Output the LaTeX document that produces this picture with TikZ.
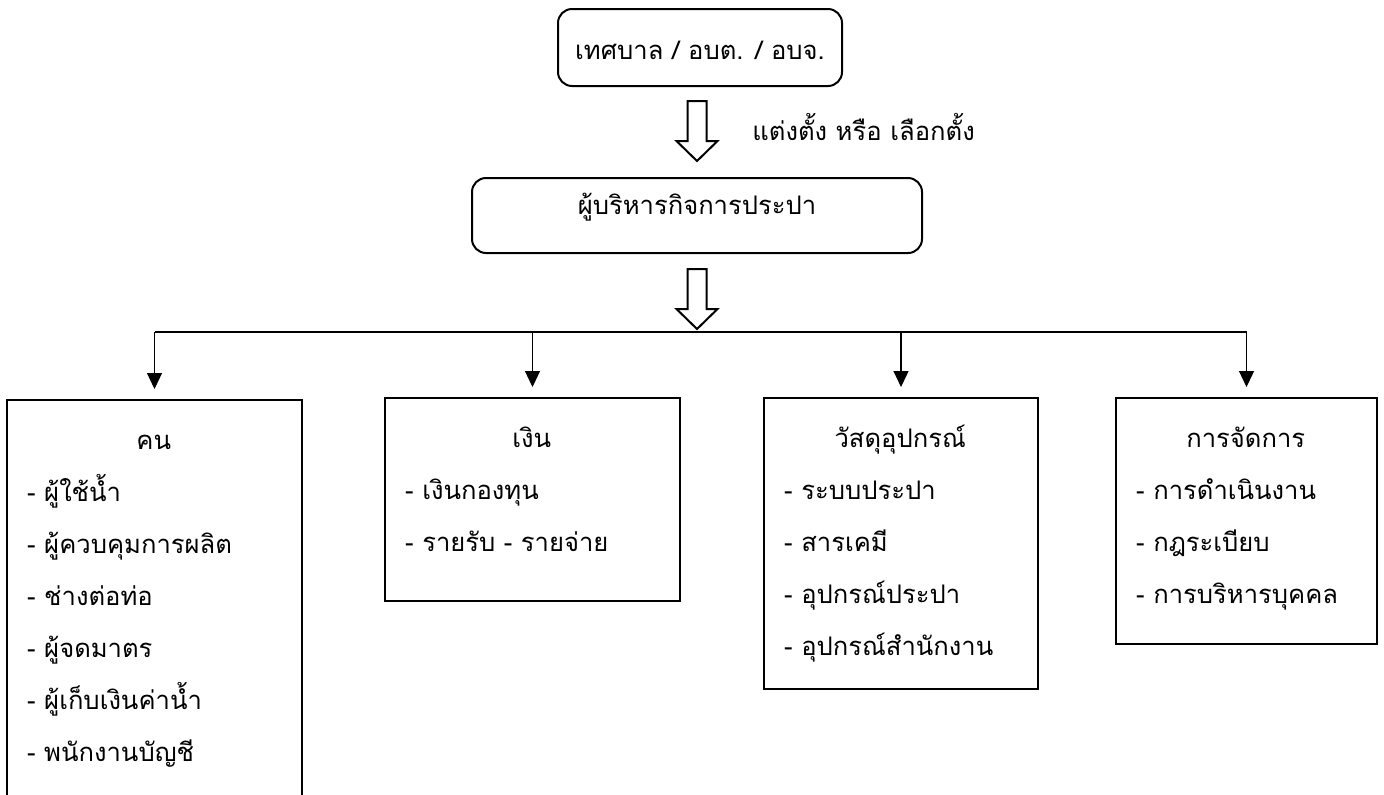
\documentclass[tikz,border=0pt]{standalone}
\usepackage{fontspec}
\newfontfamily\thaifont[Script=Thai]{Loma}
\usetikzlibrary{arrows.meta,positioning,calc}

\tikzset{
    thai/.style={font=\thaifont\fontsize{12.8}{26}\selectfont},
    roundbox/.style={draw, line width=1pt, rounded corners=7pt, inner sep=0pt, thai},
    listbox/.style={draw, line width=1.2pt, inner sep=0pt, anchor=north},
    listtext/.style={anchor=base west, align=left, inner sep=0pt, thai},
    hollow/.style={draw, line width=1pt, fill=white},
    busline/.style={line width=0.6pt},
    downarrow/.style={line width=0.6pt, -{Triangle[length=8pt, width=7.5pt]}, shorten >=5pt}
}

% block arrow drawn upward from its tip
\newcommand{\blockarrow}[1]{\draw[hollow] #1 -- ++(-20.5,-20) -- ++(11,0) -- ++(0,-40) -- ++(19,0) -- ++(0,40) -- ++(11,0) -- cycle;}

\begin{document}
\begin{tikzpicture}[x=0.5pt, y=-0.5pt]
        % Define Variables
        \def\bus{332}
        \def\top{397}

        \useasboundingbox (0,0) rectangle (1384,794);
        \clip (0,0) rectangle (1384,794);

        % Overall Scheme
        \node[roundbox, minimum width=142pt, minimum height=38.5pt, text height=14pt, text depth=2pt] at (700,47.5) (org) {เทศบาล / อบต. / อบจ.};
        \node[roundbox, minimum width=225pt, minimum height=37.5pt, text height=9pt, text depth=10pt] at (697,215.5) (exec) {ผู้บริหารกิจการประปา};

        \blockarrow{([yshift=8pt]exec.north)}
        \node[listtext] at (752,140) (appoint) {แต่งตั้ง หรือ เลือกตั้ง};

        \coordinate (split) at (697,\bus);
        \blockarrow{([yshift=1.5pt]split)}

        % Four Boxes
        \node[listbox, minimum width=147.5pt, minimum height=211pt] at (154.5,399) (kon) {};
        \node[listbox, minimum width=147.5pt, minimum height=101.5pt] at (532.5,\top) (ngoen) {};
        \node[listbox, minimum width=137pt, minimum height=145.5pt] at (901,\top) (wasadu) {};
        \node[listbox, minimum width=130.5pt, minimum height=123pt] at (1246.5,\top) (mgmt) {};

        \node[listtext, text width=126.5pt] at ($(kon.north west)+(21,50)$) (kon-t) {\makebox[\linewidth]{คน}\\ -~ผู้ใช้น้ำ\\ -~ผู้ควบคุมการผลิต\\ -~ช่างต่อท่อ\\ -~ผู้จดมาตร\\ -~ผู้เก็บเงินค่าน้ำ\\ -~พนักงานบัญชี};
        \node[listtext, text width=126.5pt] at ($(ngoen.north west)+(21,50)$) (ngoen-t) {\makebox[\linewidth]{เงิน}\\ -~เงินกองทุน\\ -~รายรับ - รายจ่าย};
        \node[listtext, text width=116pt] at ($(wasadu.north west)+(21,50)$) (wasadu-t) {\makebox[\linewidth]{วัสดุอุปกรณ์}\\ -~ระบบประปา\\ -~สารเคมี\\ -~อุปกรณ์ประปา\\ -~อุปกรณ์สำนักงาน};
        \node[listtext, text width=109.5pt] at ($(mgmt.north west)+(21,50)$) (mgmt-t) {\makebox[\linewidth]{การจัดการ}\\ -~การดำเนินงาน\\ -~กฎระเบียบ\\ -~การบริหารบุคคล};

        % Connectors
        \draw[busline] (kon.north |- split) -- (mgmt.north |- split);
        \foreach \b in {kon, ngoen, wasadu, mgmt}
            \draw[downarrow] (\b.north |- split) -- (\b.north);

\end{tikzpicture}
\end{document}
